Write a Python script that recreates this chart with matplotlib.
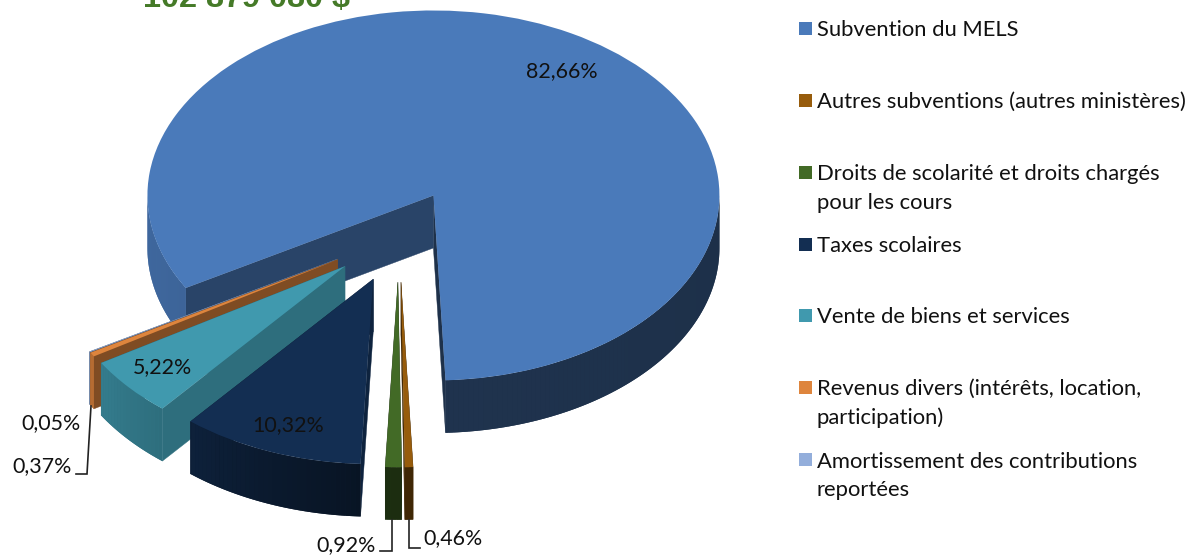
import numpy as np
import matplotlib
matplotlib.use("Agg")
import matplotlib.pyplot as plt
from matplotlib.patches import Wedge, Rectangle
from matplotlib.transforms import Affine2D
from matplotlib.colors import to_rgb

# ---------- data ----------
categories = ["Subvention du MELS",
              "Autres subventions (autres ministères)",
              "Droits de scolarité et droits chargés\npour les cours",
              "Taxes scolaires",
              "Vente de biens et services",
              "Revenus divers (intérêts, location,\nparticipation)",
              "Amortissement des contributions\nreportées"]
values = [82.66, 0.46, 0.92, 10.32, 5.22, 0.37, 0.05]
value_labels = ["82,66%", "0,46%", "0,92%", "10,32%", "5,22%", "0,37%", "0,05%"]
colors = ["#4a7aba", "#975c0c", "#426a26", "#132e52", "#4099ae", "#de853d", "#93aedb"]
title = "102 879 080 $"

# ---------- style / layout ----------
W, H = 1196, 557
OX, OY, A, B = 399.0, 236.0, 286.0, 185.0   # pie centre and radii (pixels)
DEPTH = 52.5 / B
EXPLODE = 0.25
START = 240.0                               # first slice angle, clockwise from 12 o'clock
start_face = [0.56, 0.45, 0.45, 0.75, 0.72, 0.57, 0.6]
end_face = [0.40, 0.45, 0.45, 0.7, 0.7, 0.57, 0.6]
draw_order = [0, 6, 5, 4, 3, 2, 1]
label_px = [(562, 71), (453, 538), (346, 545), (288, 425), (162, 367), (42, 466), (51, 423)]
leaders = [[(91, 406), (87, 474), (76, 474)],
           [(392, 520), (392, 551), (380, 551)],
           [(409, 520), (409, 548), (420, 548)]]
legend_y = [28, 100, 172, 244, 315, 387, 459]
LINE_PX = 29.5
FONT = "Lato"
LEG_SIZE = 15.8
LAB_SIZE = 15.4

fig = plt.figure(figsize=(W / 100, H / 100), dpi=100, facecolor="white")
ax = fig.add_axes([0, 0, 1, 1])
ax.set_xlim(-OX / A, (W - OX) / A)
ax.set_ylim((OY - H) / B, OY / B)
ax.axis("off")
px = Affine2D().scale(1, -1).translate(0, H)   # pixel coordinates, y downwards


def shade(color, f):
    return tuple(min(1, c * f) for c in to_rgb(color))


def arc_factor(theta):
    t = ((theta - 90) % 360) + 90
    return np.interp(t, [90, 180, 200, 220, 240, 270], [0.39, 0.42, 0.55, 0.72, 0.82, 0.86])


def pt(cx, cy, theta, r=1.0):
    a = np.radians(theta)
    return cx + r * np.sin(a), cy + r * np.cos(a)


spans = []
cum = START
for v in values:
    spans.append((cum, cum + v * 3.6))
    cum += v * 3.6

z = 1
for i in draw_order:
    th0, th1 = spans[i]
    mid = (th0 + th1) / 2
    cx, cy = pt(0, 0, mid, EXPLODE)
    col = colors[i]
    # radial faces
    for th, f in ((th1, end_face[i]), (th0, start_face[i])):
        x, y = pt(cx, cy, th)
        ax.fill([cx, x, x, cx], [cy, y, y - DEPTH, cy - DEPTH], color=shade(col, f), lw=0.3, zorder=z)
        z += 1
    # outer rim, only the part facing the viewer: one flat base, then graded steps
    grid = np.arange(th0, th1 + 1.0, 1.0)
    grid = np.append(grid[grid < th1], th1)
    steps = [(a, b) for a, b in zip(grid[:-1], grid[1:])
             if np.cos(np.radians((a + b) / 2)) <= 0]
    runs = []
    for a, b in steps:
        if runs and abs(runs[-1][-1] - a) < 1e-9:
            runs[-1].extend([b])
        else:
            runs.append([a, b])
    for run in runs:
        xs, ys = pt(cx, cy, np.array(run))
        base = shade(col, arc_factor(np.mean(run)))
        ax.fill(np.r_[xs, xs[::-1]], np.r_[ys, ys[::-1] - DEPTH], color=base, lw=0, zorder=z)
        z += 1
        for a, b in zip(run[:-1], run[1:]):
            xs, ys = pt(cx, cy, np.array([a, b]))
            c = shade(col, arc_factor((a + b) / 2))
            ax.fill(np.r_[xs, xs[::-1]], np.r_[ys, ys[::-1] - DEPTH], color=c, lw=0, zorder=z)
        z += 1
    # top face
    ax.add_patch(Wedge((cx, cy), 1.0, 90 - th1, 90 - th0, facecolor=col, edgecolor="none", zorder=z))
    z += 1

for pts in leaders:
    xs, ys = zip(*pts)
    ax.plot(xs, ys, transform=px, color="#222222", lw=1.2, zorder=z, solid_joinstyle="miter")

for lab, (x, y) in zip(value_labels, label_px):
    ax.text(x, y, lab, transform=px, ha="center", va="center", family=FONT,
            fontsize=LAB_SIZE, color="#111111", zorder=z + 1)

ax.text(143, 7.5, title, transform=px, ha="left", va="baseline", family="Liberation Sans",
        fontweight="bold", fontsize=23.3, color="#457a28", zorder=z + 1)

for name, col, y in zip(categories, colors, legend_y):
    ax.add_patch(Rectangle((799, y - 6.5), 12.5, 13, transform=px, facecolor=col,
                           edgecolor="none", zorder=z))
    extra = name.count("\n") * LINE_PX
    ax.text(817, y + 7.8 + extra, name, transform=px, ha="left", va="baseline", family=FONT,
            fontsize=LEG_SIZE, color="#111111", linespacing=1.55, zorder=z + 1)

fig.savefig("out.png", dpi=100)
